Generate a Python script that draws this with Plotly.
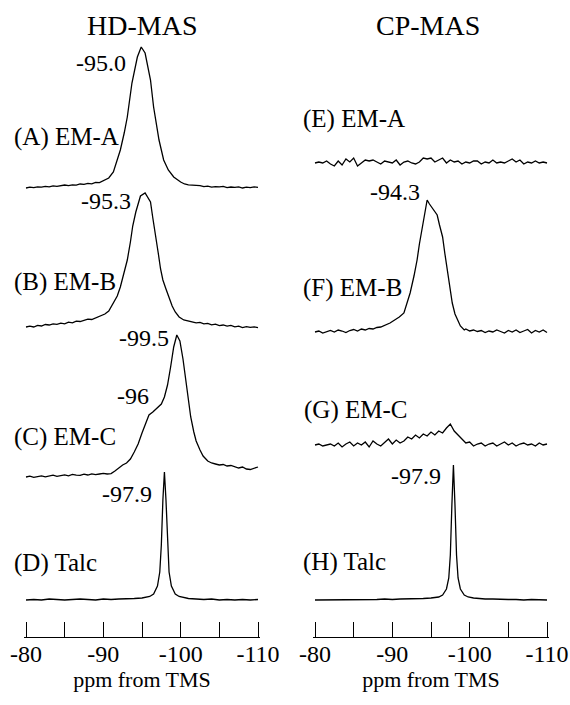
import plotly.graph_objects as go

# ---------------- data ----------------
tick_vals = [-80, -85, -90, -95, -100, -105, -110]
tick_text = ["-80", "", "-90", "", "-100", "", "-110"]

# 0.5 ppm sampling grid used for the noisy CP-MAS traces
ppm_grid = [-80.0, -80.5, -81.0, -81.5, -82.0, -82.5, -83.0, -83.5, -84.0, -84.5,
            -85.0, -85.5, -86.0, -86.5, -87.0, -87.5, -88.0, -88.5, -89.0, -89.5,
            -90.0, -90.5, -91.0, -91.5, -92.0, -92.5, -93.0, -93.5, -94.0, -94.5,
            -95.0, -95.5, -96.0, -96.5, -97.0, -97.5, -98.0, -98.5, -99.0, -99.5,
            -100.0, -100.5, -101.0, -101.5, -102.0, -102.5, -103.0, -103.5, -104.0, -104.5,
            -105.0, -105.5, -106.0, -106.5, -107.0, -107.5, -108.0, -108.5, -109.0, -109.5,
            -110.0]

# (A) HD-MAS EM-A
ppm_A = [-80, -80.5, -81, -81.5, -82, -82.5, -83, -83.5, -84, -84.5, -85, -85.5, -86, -86.5,
         -87, -87.5, -88, -88.5, -89, -89.5, -90,
         -90.7, -91.3, -91.8, -92.2, -92.7, -93.1, -93.7, -94.4, -94.9, -95.4, -96.1, -96.5,
         -97.2, -97.8, -98.4, -99.1, -100,
         -100.5, -101, -101.5, -102, -102.5, -103, -103.5, -104, -104.5, -105, -105.5, -106,
         -106.5, -107, -107.5, -108, -108.5, -109, -109.5, -110]
int_A = [0, 0.8, 0.3, 1.2, 0.8, 1.6, 1.2, 2.2, 1.6, 2.2, 3, 2.4, 3.2, 2.8, 4, 3.6, 4.6, 4.2, 5.6, 5.4, 7,
         10, 16, 27, 38, 55, 71, 105, 131, 141, 135, 108, 81, 48, 28, 18, 11, 6,
         4, 3.2, 3, 2.2, 2.4, 1.4, 1.8, 0.8, 1.4, 1.1, 1.6, 0.4, 1, 0.6, 1.2, 0, 0.8, 0.3, 1.2, 0.6]

# (B) HD-MAS EM-B
ppm_B = [-80, -80.5, -81, -81.5, -82, -82.5, -83, -83.5, -84, -84.5, -85, -85.5, -86, -86.5,
         -87, -87.5, -88, -88.5, -89, -89.5,
         -90.2, -90.7, -91.2, -91.8, -92.2, -92.6, -93.1, -93.5, -93.8, -94.2, -94.8, -95.4,
         -96.1, -96.4, -96.8, -97.1, -97.4, -97.7, -98.1, -98.5, -98.9, -99.3, -99.8, -100.4,
         -101, -101.5, -102, -102.5, -103, -103.5, -104, -104.5, -105, -105.5, -106, -106.5,
         -107, -107.5, -108, -108.5, -109, -109.5, -110]
int_B = [1, 1.8, 1, 2.6, 2, 3.5, 3, 4.2, 3.6, 4.8, 4.2, 5.8, 5.2, 6.8, 6.5, 7.8, 8.8, 8.5, 10, 12,
         14, 17, 24, 32, 41, 52, 68, 86, 102, 116, 132, 135, 126, 110, 92, 75, 59, 48, 39, 30,
         22, 16, 11, 8,
         7, 6, 5.2, 5.6, 4.2, 4.6, 3.2, 3.8, 2.4, 3, 1.8, 2.6, 1.2, 1.8, 0.4, 1.4, 0.6, 1.1, 0.4]

# (C) HD-MAS EM-C
ppm_C = [-80, -80.5, -81, -81.5, -82, -82.5, -83, -83.5, -84, -84.5, -85, -85.5, -86, -86.5,
         -87, -87.5, -88, -88.5, -89, -89.5, -90, -90.5, -91,
         -91.5, -92, -92.5, -93, -93.5, -94, -94.5, -95, -95.5, -95.9, -96.4, -97, -97.5,
         -97.9, -98.3, -98.7, -99.1, -99.5, -99.9, -100.3, -100.7, -101, -101.3, -101.7, -102,
         -102.5, -102.9, -103.5, -104,
         -104.5, -105, -105.5, -106, -106.5, -107, -107.5, -108, -108.5, -109, -109.5, -110]
int_C = [0, 0.8, -0.4, 0.4, 1.2, 0.2, 1, 1.8, 0.6, 1.4, 2.2, 1.2, 2.6, 1.8, 1.6, 2.8, 2, 3.2, 2.4, 3, 3.6, 3, 3.4,
         6, 9, 12, 14, 18, 25, 33, 44, 55, 62, 65, 69, 73, 80, 92, 110, 130, 142, 136, 118, 96,
         78, 60, 45, 36, 27, 21, 16, 14,
         13, 12, 12.5, 11, 11.5, 10, 9, 10, 8, 7.5, 9, 10]

# (D) HD-MAS Talc
ppm_D = [-80, -81, -82, -83, -84, -85, -86, -87, -88, -89, -90, -91, -92, -93, -94, -95,
         -95.5, -96, -96.5, -97, -97.3, -97.5, -97.7, -97.9, -98.1, -98.3, -98.5, -98.8, -99.3,
         -99.8, -100.5,
         -101, -102, -103, -104, -105, -106, -107, -108, -109, -110]
int_D = [0, 0.5, 0, 1, 0.5, 0, 0.5, 1, 0.5, 0, 1, 0.5, 1, 1, 1.5, 2,
         2.5, 3.5, 6, 14, 28, 55, 100, 128, 100, 55, 28, 14, 6, 3.5, 2,
         1.5, 1, 0.5, 1, 0, 0.5, 0, 0.5, 0, 0.5]

# (E) CP-MAS EM-A  (noise only, on ppm_grid)
int_E = [0, 1, 0, 2, -1, -3, 2, -2, 4, 1, 5, -3, 0, 3, 2, 3, 1, -1, 2, 1,
         0, 3, -2, 1, 2, 0, -1, 1, 5, 4, 5, 1, 3, 5, 0, 3, 1, 2, -1, 1,
         0, 2, 2, -1, 1, 0, 3, 0, 1, 0, 2, 4, 1, 3, -1, 1, 0, 2, 0, 1, 0]

# (F) CP-MAS EM-B
ppm_F = [-80, -80.5, -81, -81.5, -82, -82.5, -83, -83.5, -84, -84.5, -85, -85.5, -86, -86.5,
         -87, -87.5, -88, -88.5,
         -89.2, -89.7, -90.3, -90.9, -91.5, -91.9, -92.3, -92.8, -93.2, -93.5, -93.9, -94.2,
         -94.5, -94.8, -95.2, -95.8, -96.1, -96.5, -96.8, -97.1, -97.4, -97.75, -98.1, -98.4,
         -98.8, -99.3,
         -99.5, -100, -100.5, -101, -101.5, -102, -102.5, -103, -103.5, -104, -104.5, -105,
         -105.5, -106, -106.5, -107, -107.5, -108, -108.5, -109, -109.5, -110]
int_F = [0, 1, -1, 0.5, 1.5, 0, 2, 1, -0.5, 1.5, 2.5, 1, 3, 2, 3.5, 3, 4.5, 5,
         7, 9, 12, 15, 19, 28, 39, 56, 72, 88, 105, 120, 132, 128, 124, 117, 107, 95, 78, 62,
         45, 29, 18, 12, 6, 2,
         3, 1, 2, 0.5, 1.5, -0.5, 1, 0, 2, 0.5, -1, 1.5, 0, 2, -0.5, 1, 2.5, -1, 1.5, 0, 2, -0.5]

# (G) CP-MAS EM-C  (weak broad bump, on ppm_grid)
int_G = [0, 1, -1, 0, 1, -1, 2, -2, 1, 3, -1, 2, 0, 3, -2, 4, 1, -1, 3, 6,
         1, 5, 2, 4, 8, 6, 10, 7, 11, 9, 13, 10, 14, 12, 17, 21, 14, 10, 6, 2,
         3, -1, 1, 2, -1, 1, 2, -1, 1, 3, 0, 2, -1, 1, 2, 0, 1, -1, 2, 0, 1]

# (H) CP-MAS Talc
ppm_H = [-80, -81, -82, -83, -84, -85, -86, -87, -88, -89, -90, -91, -92, -93, -94, -95,
         -95.5, -96, -96.5, -97, -97.3, -97.5, -97.7, -97.9, -98.1, -98.3, -98.5, -98.8, -99.3,
         -99.8, -100.5,
         -101, -102, -103, -104, -105, -106, -107, -108, -109, -110]
int_H = [0, 0, 0.5, 0, 0.5, 0.5, 0, 0.5, 0.5, 1, 0.5, 1, 1, 1.5, 1.5, 2,
         2.5, 3, 5, 11, 22, 45, 95, 135, 95, 45, 22, 11, 5, 3, 2,
         1.5, 1, 1, 0.5, 0.5, 0.5, 0, 0.5, 0, 0]

spectrum_labels = ["(A) EM-A", "(B) EM-B", "(C) EM-C", "(D) Talc",
                   "(E) EM-A", "(F) EM-B", "(G) EM-C", "(H) Talc"]
peak_labels_left = ["-95.0", "-95.3", "-99.5", "-96", "-97.9"]
peak_labels_right = ["-94.3", "-97.9"]
panel_titles = ["HD-MAS", "CP-MAS"]
axis_title = "ppm from TMS"

# ---------------- layout / styling ----------------
W, H = 570, 705
AXIS_PX = 637           # pixel row of the axis line
FONT = "Liberation Serif"
LINE = dict(color="black", width=1.3)
PAD = 0.2               # ppm of axis overhang so the end ticks are kept

# pixel positions of the -80 and -110 ticks in each panel
LEFT_PX = (26, 258)
RIGHT_PX = (315, 547)


def domain_for(px):
    ppx = (px[1] - px[0]) / 30.0
    return [(px[0] - PAD * ppx) / W, (px[1] + PAD * ppx) / W]


# vertical stacking offsets (one y unit = one pixel above the axis line)
traces = [
    (ppm_A, int_A, 449, "x", "y"),
    (ppm_B, int_B, 309, "x", "y"),
    (ppm_C, int_C, 160, "x", "y"),
    (ppm_D, int_D, 37, "x", "y"),
    (ppm_grid, int_E, 474, "x2", "y2"),
    (ppm_F, int_F, 305, "x2", "y2"),
    (ppm_grid, int_G, 192, "x2", "y2"),
    (ppm_H, int_H, 37, "x2", "y2"),
]

fig = go.Figure()
for ppm, inten, off, xa, ya in traces:
    fig.add_trace(go.Scatter(x=ppm, y=[off + v for v in inten], mode="lines",
                             line=LINE, xaxis=xa, yaxis=ya, cliponaxis=False,
                             showlegend=False, hoverinfo="skip"))

xcommon = dict(range=[-80 + PAD, -110 - PAD], tickmode="array", tickvals=tick_vals,
               ticktext=tick_text,
               ticks="inside", ticklen=15, tickwidth=1, tickcolor="black",
               showline=True, linecolor="black", linewidth=1, automargin=False,
               showgrid=False, zeroline=False, ticklabelstandoff=-5,
               tickfont=dict(family=FONT, size=24, color="black"),
               title=dict(text=axis_title, font=dict(family=FONT, size=22, color="black"),
                          standoff=0))
ydom = [(H - AXIS_PX) / H, 1]
ycommon = dict(range=[0, AXIS_PX], domain=ydom, visible=False, fixedrange=True,
               automargin=False)

fig.update_layout(
    width=W, height=H, margin=dict(l=0, r=0, t=0, b=0, autoexpand=False),
    paper_bgcolor="white", plot_bgcolor="white",
    xaxis=dict(domain=domain_for(LEFT_PX), anchor="y", **xcommon),
    xaxis2=dict(domain=domain_for(RIGHT_PX), anchor="y2", **xcommon),
    yaxis=dict(anchor="x", **ycommon),
    yaxis2=dict(anchor="x2", **ycommon),
)

ann = []
# panel titles
for t, xc in zip(panel_titles, [142, 428]):
    ann.append(dict(text=t, xref="paper", yref="paper", x=xc / W, y=1 - 25 / H,
                    xanchor="center", yanchor="middle", showarrow=False,
                    font=dict(family=FONT, size=28, color="black")))

# spectrum labels (left-anchored, x in pixels)
lab_pos = [(12, 500, "y"), (12, 355, "y"), (12, 200, "y"), (12, 74, "y"),
           (301, 518, "y2"), (301, 349, "y2"), (302, 227, "y2"), (301, 75, "y2")]
for t, (px, py, yr) in zip(spectrum_labels, lab_pos):
    ann.append(dict(text=t, xref="paper", yref=yr, x=px / W, y=py, xanchor="left",
                    yanchor="middle", showarrow=False,
                    font=dict(family=FONT, size=25, color="black")))

# peak labels (right-anchored)
pk_left_pos = [(-93.25, 574), (-93.9, 436), (-98.7, 299), (-96.1, 241), (-96.5, 143)]
for t, (px, py) in zip(peak_labels_left, pk_left_pos):
    ann.append(dict(text=t, xref="x", yref="y", x=px, y=py, xanchor="right", yanchor="middle",
                    showarrow=False, font=dict(family=FONT, size=24, color="black")))
pk_right_pos = [(-93.9, 445), (-96.5, 161)]
for t, (px, py) in zip(peak_labels_right, pk_right_pos):
    ann.append(dict(text=t, xref="x2", yref="y2", x=px, y=py, xanchor="right", yanchor="middle",
                    showarrow=False, font=dict(family=FONT, size=24, color="black")))

fig.update_layout(annotations=ann)
fig.write_html("out.html", config={"displayModeBar": False, "staticPlot": True},
               post_script="document.body.style.margin='0';document.body.style.padding='0';")
